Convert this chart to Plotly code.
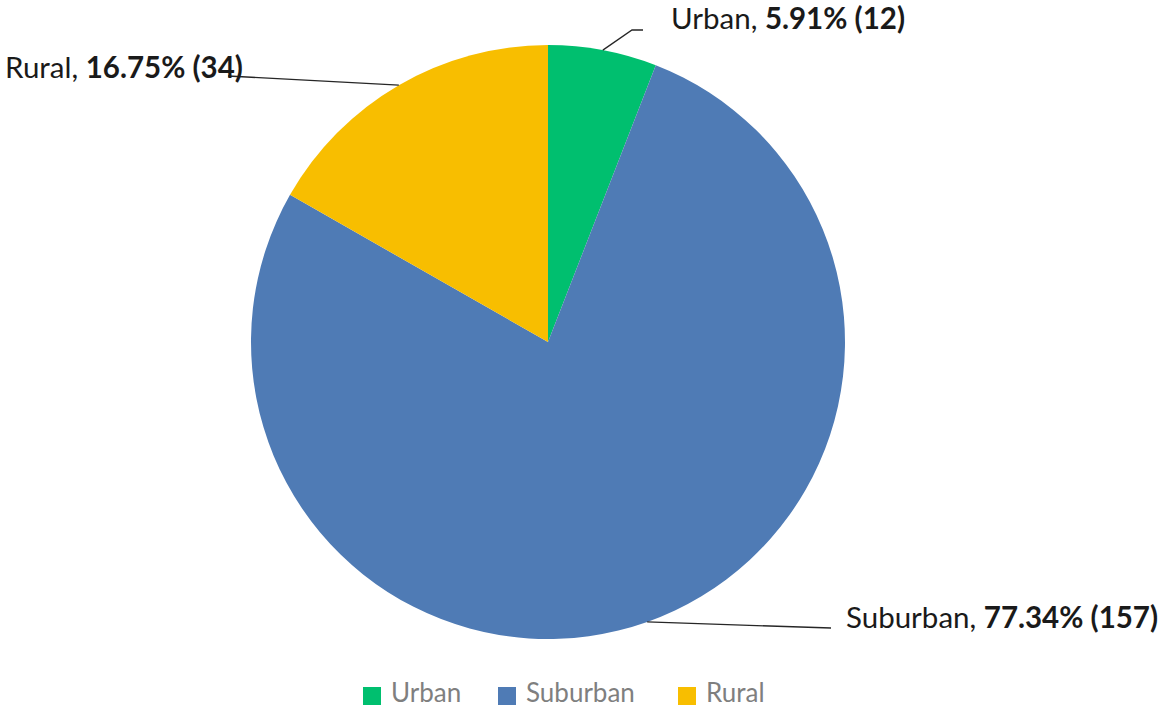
import math
import plotly.graph_objects as go

categories = ["Urban", "Suburban", "Rural"]
counts = [12, 157, 34]
colors = ["#00BF6F", "#4F7BB5", "#F8BE00"]

W, H = 1159, 707
# pie geometry (pixels)
cx, cy, R = 548, 342, 297

fig = go.Figure(go.Pie(
    labels=categories, values=counts, sort=False, direction="clockwise", rotation=0,
    marker=dict(colors=colors, line=dict(width=0)),
    textinfo="none", hoverinfo="label+value+percent", showlegend=False,
    domain=dict(x=[(cx - R) / W, (cx + R) / W], y=[(H - cy - R) / H, (H - cy + R) / H]),
))

total = sum(counts)
# leader-line elbow, line end and text start (pixels)
label_layout = {
    "Urban": [(632, 30), (643, 30), (669, 17)],
    "Suburban": [(831, 628), (831, 628), (844, 616)],
    "Rural": [(228, 76), (228, 76), (3, 66)],
}
FONT = "Lato, Carlito, sans-serif"

shapes, annotations = [], []
cum = 0
for cat, v in zip(categories, counts):
    mid = (cum + v / 2) / total * 2 * math.pi
    cum += v
    px = cx + R * math.sin(mid)
    py = cy - R * math.cos(mid)
    (ex, ey), (fx, fy), (tx, ty) = label_layout[cat]
    path = f"M {px/W} {1-py/H} L {ex/W} {1-ey/H} L {fx/W} {1-fy/H}"
    shapes.append(dict(type="path", xref="paper", yref="paper", path=path,
                       line=dict(color="#262626", width=1.3)))
    pct = v / total * 100
    annotations.append(dict(
        x=tx / W, y=1 - ty / H, xref="paper", yref="paper", xanchor="left", yanchor="middle",
        text=f"{cat}, <b>{pct:.2f}% ({v})</b>", showarrow=False,
        font=dict(family=FONT, size=29.5, color="#1a1a1a"),
    ))

# custom legend
legend_x = [363, 498, 678]
sq_top, sq = 687, 18
for cat, col, lx in zip(categories, colors, legend_x):
    shapes.append(dict(type="rect", xref="paper", yref="paper",
                       x0=lx / W, x1=(lx + sq) / W,
                       y0=1 - (sq_top + sq) / H, y1=1 - sq_top / H,
                       fillcolor=col, line=dict(width=0)))
    annotations.append(dict(
        x=(lx + sq + 8) / W, y=0, xref="paper", yref="paper",
        xanchor="left", yanchor="bottom", yshift=-3, text=cat, showarrow=False,
        font=dict(family=FONT, size=26, color="#7f7f7f"),
    ))

fig.update_layout(
    width=W, height=H, margin=dict(l=0, r=0, t=0, b=0, autoexpand=False),
    paper_bgcolor="white", plot_bgcolor="white",
    shapes=shapes, annotations=annotations,
    showlegend=False,
)

fig.write_html("out.html", config={"displayModeBar": False},
               post_script="document.body.style.margin='0';")
